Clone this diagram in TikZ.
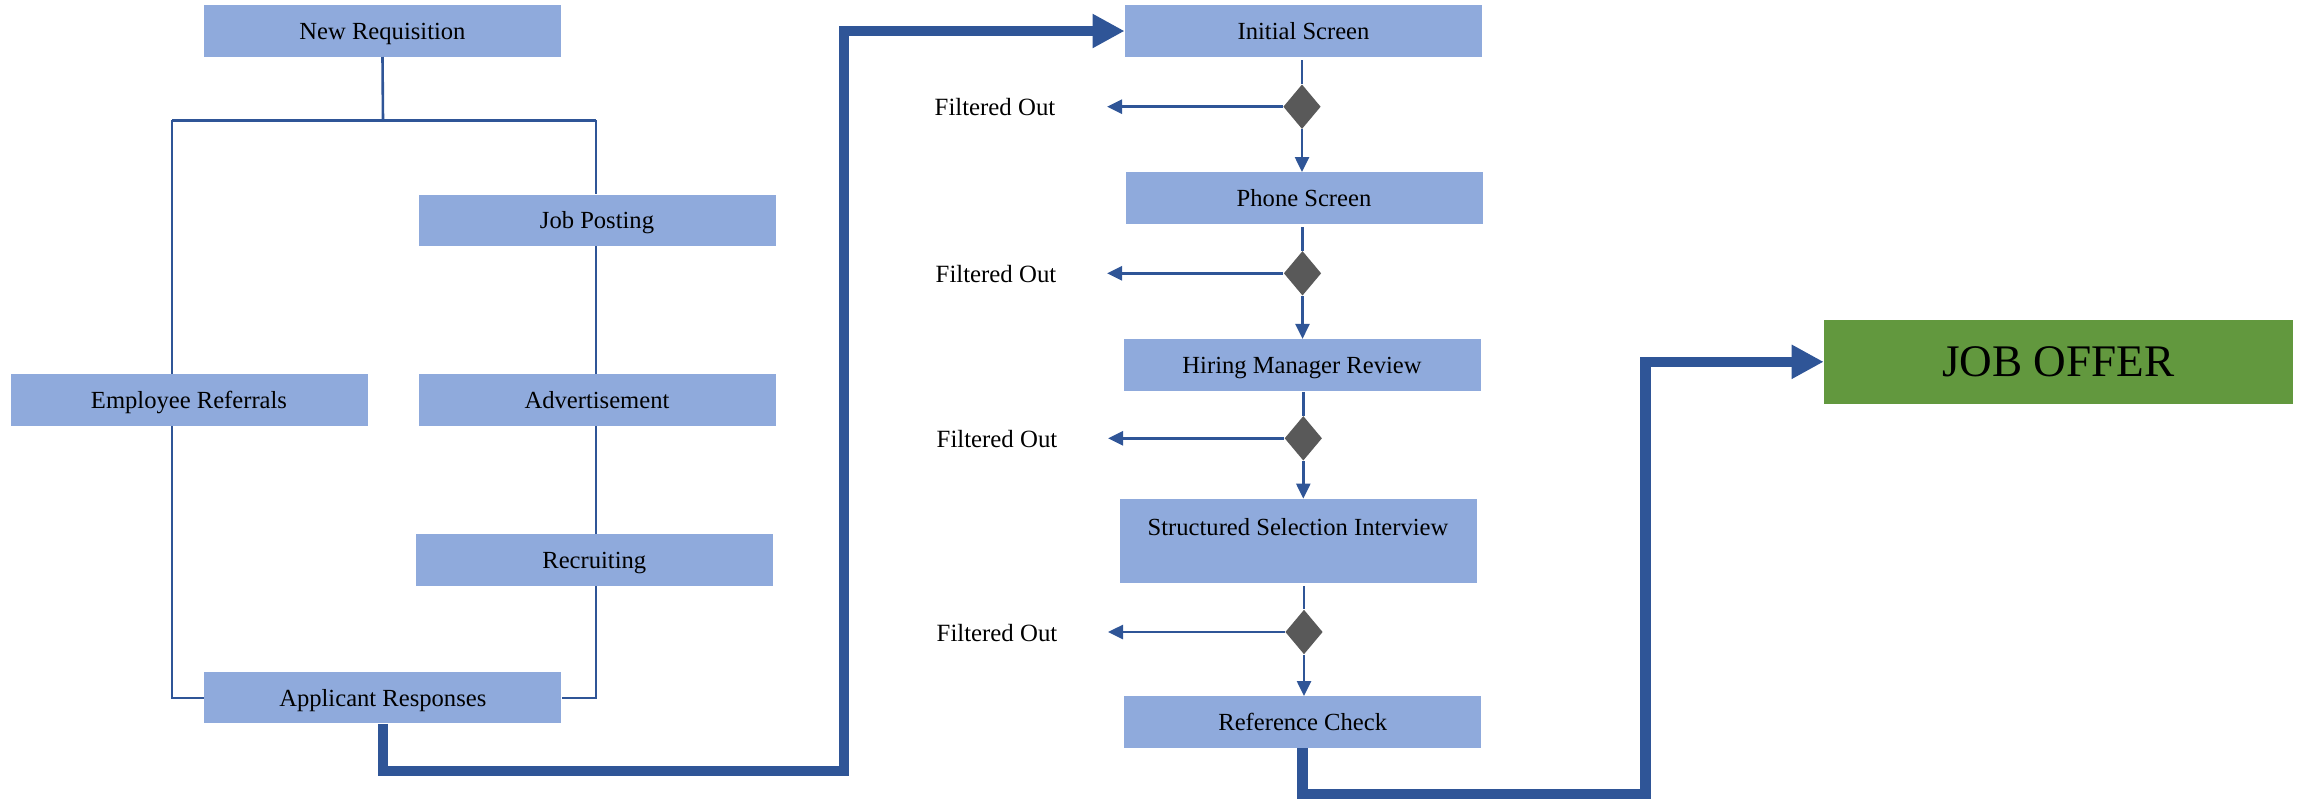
\documentclass[tikz,border=0pt]{standalone}
\usepackage{fontspec}
\setmainfont{Liberation Serif}
\usetikzlibrary{arrows.meta,shapes.geometric}
\definecolor{boxblue}{HTML}{8FAADC}
\definecolor{lineblue}{HTML}{2F5597}
\definecolor{dgray}{HTML}{595959}
\definecolor{offergreen}{HTML}{62983E}
\begin{document}
\begin{tikzpicture}[x=0.5pt,y=-0.5pt,
  box/.style={draw=none, fill=boxblue, minimum width=178.5pt, minimum height=25.6pt,
    inner sep=0pt, font=\fontsize{12.3}{14}\selectfont, text height=10.2pt, text depth=2pt},
  dec/.style={shape=diamond, fill=dgray, draw=none, inner sep=0pt,
    minimum width=18.75pt, minimum height=22.35pt},
  lbl/.style={inner sep=0pt, font=\fontsize{12.4}{14}\selectfont, text height=10.2pt, text depth=2pt},
  thin/.style={draw=lineblue, line width=1.3pt},
  thinarrow/.style={thin, -{Triangle[width=7pt,length=7.5pt]}},
  thick/.style={draw=lineblue, line width=5.25pt, line join=miter, -{Triangle[width=16pt,length=16pt]}}
]
\useasboundingbox (0,0) rectangle (2303,799);

% left tree
\node[box] (nr)  at (382.5,31)   {New Requisition};
\node[box] (jp)  at (597,220.3)  {Job Posting};
\node[box] (er)  at (189,400)    {Employee Referrals};
\node[box] (adv) at (597,400)    {Advertisement};
\node[box] (rec) at (594.3,560)  {Recruiting};
\node[box] (ar)  at (382.8,697.8){Applicant Responses};

\coordinate (jn) at (383,120.4);
\coordinate (jl) at (172,120.4);
\coordinate (jr) at (596,120.4);

% right column
\node[box] (is)  at (1303.5,31)   {Initial Screen};
\node[box] (ps)  at (1304,198)    {Phone Screen};
\node[box] (hmr) at (1302,364.9)  {Hiring Manager Review};
\node[box, minimum height=41.85pt, text height=18pt, text depth=23.85pt] (ssi) at (1298,540.85) {Structured Selection Interview};
\node[box] (rc)  at (1302.7,722)  {Reference Check};

\node[dec] (d1) at (1302,106.7) {};
\node[dec] (d2) at (1302.5,273.3) {};
\node[dec] (d3) at (1303.3,438.3) {};
\node[dec] (d4) at (1304,632) {};

\node[lbl] (f1) at (995,107) {Filtered Out};
\node[lbl] (f2) at (996,274) {Filtered Out};
\node[lbl] (f3) at (997,439) {Filtered Out};
\node[lbl] (f4) at (997,633) {Filtered Out};

\coordinate (o1) at (1107,106.7);
\coordinate (o2) at (1107,273.3);
\coordinate (o3) at (1108,438.3);
\coordinate (o4) at (1108,632);

\node[fill=offergreen, draw=none, inner sep=0pt, minimum width=234.3pt, minimum height=41.85pt,
  font=\fontsize{22.6}{25}\selectfont, text height=17.5pt, text depth=2.5pt] (jo) at (2058.4,361.8) {JOB OFFER};

\coordinate (c1) at (844,771);
\coordinate (c2) at (1645.5,794);

% tree connectors
\draw[thin] (nr.south) -- (jn);
\draw[thin] (jl) -- (jr);
\draw[thin] (jl) -- (jl |- er.north);
\draw[thin] (jr) -- (jr |- jp.north);
\draw[thin] (jr |- jp.south) -- (jr |- adv.north);
\draw[thin] (jr |- adv.south) -- (jr |- rec.north);
\draw[thin] (jr |- rec.south) |- (ar.east);
\draw[thin] (jl |- er.south) |- (ar.west);

% decision connectors
\draw[thin, shorten <=1.5pt] (d1.north |- is.south) -- (d1.north);
\draw[thinarrow] (d1.south) -- (d1.south |- ps.north);
\draw[thinarrow] (d1.west) -- (o1);
\draw[thin, shorten <=1.5pt] (d2.north |- ps.south) -- (d2.north);
\draw[thinarrow] (d2.south) -- (d2.south |- hmr.north);
\draw[thinarrow] (d2.west) -- (o2);
\draw[thin, shorten <=0.5pt] (d3.north |- hmr.south) -- (d3.north);
\draw[thinarrow] (d3.south) -- (d3.south |- ssi.north);
\draw[thinarrow] (d3.west) -- (o3);
\draw[thin, shorten <=1.5pt] (d4.north |- ssi.south) -- (d4.north);
\draw[thinarrow] (d4.south) -- (d4.south |- rc.north);
\draw[thinarrow] (d4.west) -- (o4);

% thick connectors
\draw[thick] (ar.south) |- (c1) |- (is.west);
\draw[thick] (rc.south) |- (c2) |- (jo.west);
\end{tikzpicture}
\end{document}
